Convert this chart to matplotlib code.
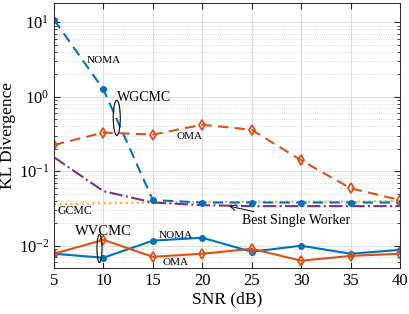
import numpy as np
import matplotlib.pyplot as plt
from matplotlib.patches import Ellipse
from matplotlib.ticker import LogLocator, NullFormatter

plt.rcParams['font.family'] = ['Liberation Serif', 'DejaVu Serif']
plt.rcParams['mathtext.fontset'] = 'custom'
plt.rcParams['mathtext.rm'] = 'Liberation Serif'
plt.rcParams['mathtext.it'] = 'Liberation Serif:italic'

# data
snr = [5, 10, 15, 20, 25, 30, 35, 40]
wgcmc_noma = [10.8, 1.25, 0.041, 0.038, 0.038, 0.038, 0.038, 0.038]
wgcmc_oma = [0.225, 0.33, 0.31, 0.42, 0.36, 0.14, 0.059, 0.041]
best_single = [0.154, 0.054, 0.038, 0.035, 0.034, 0.034, 0.034, 0.034]
gcmc = [0.036, 0.037, 0.038, 0.038, 0.039, 0.039, 0.039, 0.040]
wvcmc_noma = [0.0078, 0.0069, 0.0117, 0.0128, 0.0083, 0.0100, 0.0078, 0.0088]
wvcmc_oma = [0.0078, 0.0120, 0.0071, 0.0078, 0.0091, 0.0063, 0.0073, 0.0078]

blue = '#0072BD'
orange = '#D95319'
yellow = '#EDB120'
purple = '#7E2F8E'

fig = plt.figure(figsize=(4.09, 3.14), dpi=100)
ax = fig.add_axes([0.132, 0.146, 0.846, 0.844])

ax.plot(snr, gcmc, ':', color=yellow, lw=1.5)
ax.plot(snr, best_single, '-.', color=purple, lw=1.5)
ax.plot(snr, wgcmc_noma, '--', color=blue, lw=1.5, marker='o', ms=4,
        mfc=blue, dashes=(5, 3))
ax.plot(snr, wgcmc_oma, '--', color=orange, lw=1.5, marker='d', ms=5,
        mfc='none', mew=1.3, dashes=(5, 3))
ax.plot(snr, wvcmc_noma, '-', color=blue, lw=1.5, marker='o', ms=4, mfc=blue)
ax.plot(snr, wvcmc_oma, '-', color=orange, lw=1.5, marker='d', ms=5,
        mfc='none', mew=1.3)

ax.set_yscale('log')
ax.set_xlim(5, 40)
ax.set_ylim(0.005, 18)
ax.set_xticks(snr)
ax.yaxis.set_major_locator(LogLocator(base=10, numticks=10))
ax.yaxis.set_minor_locator(LogLocator(base=10, subs=np.arange(2, 10), numticks=20))
ax.yaxis.set_minor_formatter(NullFormatter())

ax.grid(True, which='major', color='#dcdcdc', lw=0.7)
ax.grid(True, which='minor', axis='y', color='#d0d0d0', lw=0.6, ls=':')
ax.set_axisbelow(True)
ax.tick_params(which='both', direction='in', top=True, right=True,
               colors='#262626', labelsize=12, labelcolor='black')
ax.tick_params(which='major', length=4)
ax.tick_params(which='minor', length=2)
for s in ax.spines.values():
    s.set_color('#262626')
    s.set_linewidth(0.7)

ax.set_xlabel('SNR (dB)', fontsize=12.5, labelpad=2)
ax.set_ylabel('KL Divergence', fontsize=12.5, labelpad=2)

# text annotations
ax.text(8.3, 3.1, 'NOMA', fontsize=8, va='center')
ax.text(11.4, 0.97, 'WGCMC', fontsize=10, va='center')
ax.text(17.4, 0.29, 'OMA', fontsize=8, va='center')
ax.text(5.4, 0.029, 'GCMC', fontsize=8.5, va='center')
ax.text(7.1, 0.0157, 'WVCMC', fontsize=10.5, va='center')
ax.text(15.6, 0.0139, 'NOMA', fontsize=8, va='center')
ax.text(16.0, 0.0059, 'OMA', fontsize=8, va='center')
ax.annotate('Best Single Worker', xy=(22.7, 0.034), xytext=(24.0, 0.0215),
            fontsize=10, va='center',
            arrowprops=dict(arrowstyle='->', color='black', lw=0.7,
                            shrinkA=0, shrinkB=0))

# ellipses grouping the curves, placed in axes coordinates
def to_axes(x, y):
    disp = ax.transData.transform((x, y))
    return ax.transAxes.inverted().transform(disp)

for (cx, cy, w, h) in [(11.35, 0.52, 7, 35), (9.6, 0.0092, 5, 28)]:
    c = to_axes(cx, cy)
    ax.add_patch(Ellipse(c, w / 346, h / 265, transform=ax.transAxes,
                         fill=False, ec='black', lw=0.8, zorder=5))

fig.savefig('out.png', dpi=100)
